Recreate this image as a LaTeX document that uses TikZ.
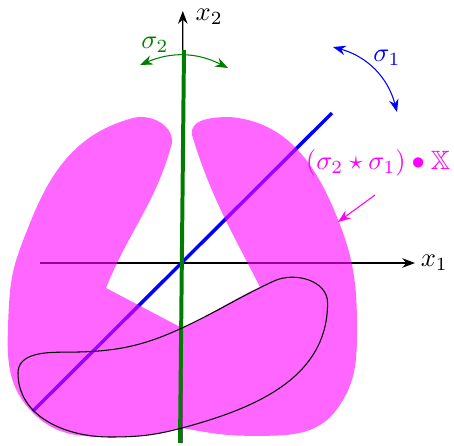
\documentclass[tikz,border=0pt]{standalone}
\usepackage{amssymb}
\usetikzlibrary{arrows.meta}
\definecolor{sgreen}{RGB}{0,125,0}
\definecolor{mag}{RGB}{255,0,255}

\begin{document}
\begin{tikzpicture}[>=Stealth, x=0.53cm, y=0.53cm, line width=0.4pt]
  \useasboundingbox (-4.55,-4.55) rectangle (6.8,6.575);
  % axes
  \coordinate (x1s) at (-3.55,0);
  \coordinate (x1e) at (5.825,0);
  \coordinate (x2s) at (0,-4.5);
  \coordinate (x2e) at (0.02,6.3);
  \draw[->] (x1s) -- (x1e) node[right,inner sep=2pt] (x1) {$x_1$};
  \draw[->] (x2s) -- (x2e);
  \node (x2) at (0.68,6.15) {$x_2$};
  % rotation axis sigma_1
  \coordinate (b1) at (-3.725,-3.7);
  \coordinate (b2) at (3.75,3.75);
  \draw[blue, line width=1.3pt] (b1) -- (b2);
  % the set (sigma_2 * sigma_1) . X
  \fill[mag, opacity=0.6] (-1.9,-0.625) -- (0,-1.625)
    to[out=25,in=205] (1.95,-0.6)
    to[out=117,in=-73] (0.25,3.2)
    to[out=100,in=180] (1.2,3.65)
    to[out=-5,in=112] (3.875,1.15)
    to[out=-68,in=90] (4.375,-1.6)
    to[out=-90,in=55] (3.9,-3.62)
    to[out=-125,in=0] (1.7,-4.32)
    to[out=180,in=-10] (0,-4.125)
    to[out=195,in=0] (-1.8,-4.35)
    to[out=180,in=-45] (-3.725,-3.75)
    to[out=135,in=-92] (-4.35,-1.6)
    to[out=88,in=248,looseness=1.2] (-3.78,1.05)
    to[out=68,in=195] (-1.225,3.625)
    to[out=15,in=85] (-0.25,3.0)
    to[out=-105,in=68] cycle;
  % rotation axis sigma_2
  \coordinate (g1) at (-0.05,-4.5);
  \coordinate (g2) at (0.05,5.325);
  \draw[sgreen, line width=1.5pt] (g1) -- (g2);
  % the set X
  \draw (0,-1.625) to[out=25,in=205] (2.3,-0.45)
    to[out=25,in=90] (3.64,-1.0)
    to[out=-90,in=15] (0,-4.125)
    to[out=195,in=0] (-1.8,-4.35)
    to[out=180,in=-90] (-4.1,-2.75)
    to[out=90,in=180] (-3.0,-2.23)
    to[out=0,in=205] cycle;
  % rotations
  \coordinate (s2a) at (-1.05,4.95);
  \coordinate (s2b) at (1.15,4.875);
  \draw[<->, sgreen] (s2a) to[bend left=25] (s2b);
  \node[sgreen] (sig2) at (-0.675,5.45) {$\sigma_2$};
  \coordinate (s1a) at (3.775,5.4);
  \coordinate (s1b) at (5.375,3.775);
  \draw[<->, blue] (s1a) to[bend left=30] (s1b);
  \node[blue] (sig1) at (5.125,5.125) {$\sigma_1$};
  % label of the set
  \node[mag] (lbl) at (4.9,2.5) {$(\sigma_2\star\sigma_1)\bullet\mathbb{X}$};
  \coordinate (p1) at (4.825,1.7);
  \coordinate (p2) at (3.9,1.025);
  \draw[->, mag] (p1) -- (p2);
\end{tikzpicture}
\end{document}
